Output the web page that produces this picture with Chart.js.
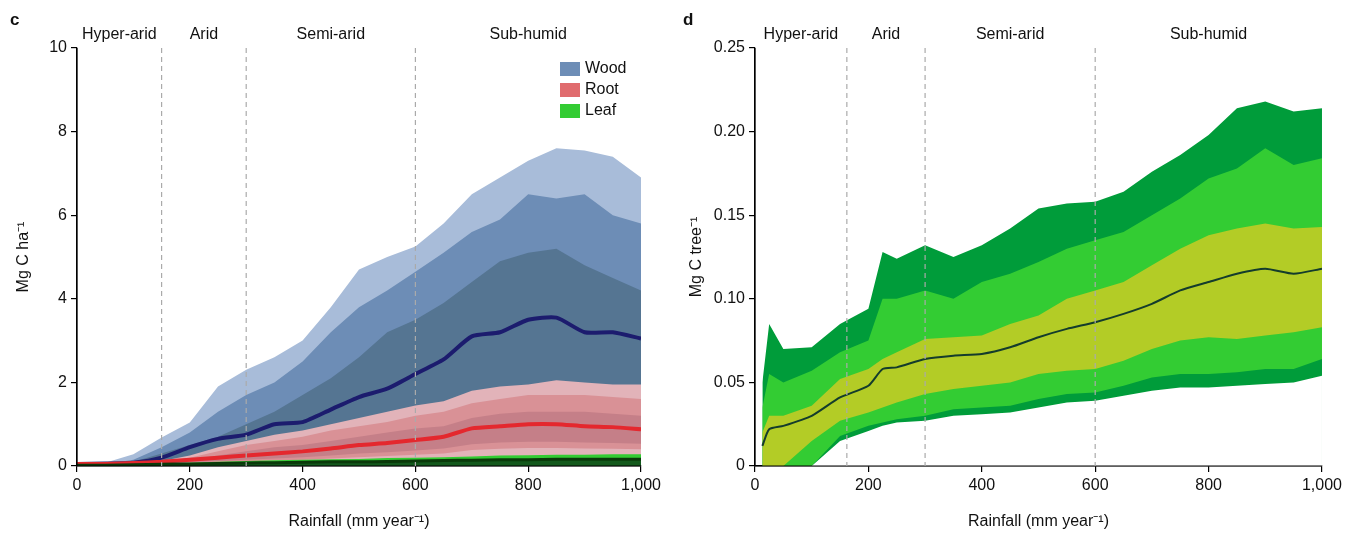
<!DOCTYPE html>
<html>
<head>
<meta charset="utf-8">
<script src="https://cdn.jsdelivr.net/npm/chart.js@4.4.1/dist/chart.umd.min.js"></script>
<style>
  body { margin: 0; background: #fff; }
  #wrap { position: relative; width: 1346px; height: 535px; }
  .pane { position: absolute; top: 0; width: 673px; height: 535px; }
</style>
</head>
<body>
<div id="wrap">
  <div class="pane" style="left:0"><canvas id="chartC"></canvas></div>
  <div class="pane" style="left:673px"><canvas id="chartD"></canvas></div>
</div>
<script>
// ---- panel c : carbon per hectare ----
const rainC = [0,50,100,150,200,250,300,350,400,450,500,550,600,650,700,750,800,850,900,950,1000];

const woodOuter = [0.05,0.08,0.28,0.68,1.04,1.9,2.3,2.6,3.0,3.8,4.7,5.0,5.25,5.8,6.5,6.9,7.3,7.6,7.55,7.4,6.9];
const woodMid   = [0.05,0.05,0.15,0.45,0.8,1.3,1.7,2.0,2.5,3.2,3.8,4.2,4.65,5.1,5.6,5.9,6.5,6.4,6.5,6.0,5.8];
const woodInner = [0.05,0.05,0.1,0.3,0.5,0.7,1.0,1.3,1.7,2.1,2.6,3.2,3.5,3.9,4.4,4.9,5.1,5.2,4.8,4.5,4.2];
const woodMed   = [0.05,0.06,0.08,0.2,0.45,0.65,0.75,1.0,1.05,1.35,1.65,1.85,2.2,2.55,3.1,3.2,3.5,3.55,3.2,3.2,3.05];

const rootOuter = [0.05,0.05,0.08,0.12,0.25,0.45,0.6,0.75,0.85,1.0,1.15,1.3,1.45,1.55,1.8,1.9,1.95,2.05,2.0,1.95,1.95];
const rootMid   = [0.05,0.05,0.07,0.1,0.2,0.35,0.5,0.6,0.7,0.85,0.95,1.05,1.2,1.3,1.5,1.6,1.7,1.7,1.7,1.65,1.6];
const rootInner = [0.05,0.05,0.07,0.08,0.15,0.25,0.35,0.45,0.5,0.6,0.7,0.8,0.9,0.95,1.15,1.25,1.3,1.3,1.3,1.25,1.2];
const rootMed   = [0.05,0.05,0.07,0.1,0.15,0.2,0.25,0.3,0.35,0.42,0.5,0.55,0.62,0.7,0.9,0.95,1.0,1.0,0.95,0.93,0.88];
const rootInLo  = [0.03,0.03,0.04,0.06,0.09,0.12,0.15,0.18,0.21,0.25,0.3,0.33,0.37,0.42,0.52,0.56,0.58,0.58,0.56,0.55,0.53];
const rootMidLo = [0.02,0.02,0.03,0.04,0.06,0.09,0.11,0.13,0.15,0.18,0.21,0.24,0.27,0.3,0.38,0.41,0.43,0.43,0.42,0.41,0.4];

const leafOuter = [0.03,0.03,0.04,0.06,0.08,0.1,0.12,0.14,0.15,0.16,0.17,0.19,0.2,0.21,0.23,0.25,0.26,0.27,0.27,0.28,0.28];
const leafInner = [0.02,0.02,0.03,0.04,0.05,0.06,0.07,0.08,0.08,0.09,0.1,0.1,0.11,0.12,0.13,0.14,0.15,0.15,0.15,0.15,0.15];
const leafMed   = [0.02,0.02,0.03,0.04,0.05,0.06,0.07,0.08,0.09,0.1,0.1,0.11,0.12,0.13,0.14,0.15,0.15,0.16,0.16,0.16,0.16];

// ---- panel d : carbon per tree ----
const rainD = [13,25,50,100,150,200,225,250,300,350,400,450,500,550,600,650,700,750,800,850,900,950,1000];

const treeOuter  = [0.05,0.085,0.07,0.071,0.085,0.094,0.128,0.124,0.132,0.125,0.132,0.142,0.154,0.157,0.158,0.164,0.176,0.186,0.198,0.214,0.218,0.212,0.214];
const treeMid    = [0.035,0.055,0.05,0.057,0.068,0.075,0.1,0.1,0.105,0.1,0.11,0.115,0.122,0.13,0.135,0.14,0.15,0.16,0.172,0.178,0.19,0.18,0.184];
const treeInner  = [0.02,0.03,0.03,0.036,0.052,0.058,0.064,0.068,0.076,0.077,0.078,0.085,0.09,0.1,0.105,0.11,0.12,0.13,0.138,0.142,0.145,0.142,0.143];
const treeMed    = [0.012,0.022,0.024,0.03,0.041,0.048,0.058,0.059,0.064,0.066,0.067,0.071,0.077,0.082,0.086,0.091,0.097,0.105,0.11,0.115,0.118,0.115,0.118];
const treeInLo   = [0,0,0,0.015,0.027,0.032,0.035,0.038,0.043,0.046,0.048,0.05,0.055,0.057,0.058,0.063,0.07,0.075,0.077,0.076,0.078,0.08,0.083];
const treeMidLo  = [0,0,0,0,0.018,0.024,0.026,0.028,0.03,0.034,0.035,0.036,0.04,0.043,0.044,0.048,0.053,0.055,0.055,0.056,0.058,0.058,0.064];
const treeOutLo  = [0,0,0,0,0.015,0.021,0.024,0.026,0.027,0.03,0.031,0.032,0.035,0.038,0.039,0.042,0.045,0.047,0.047,0.048,0.049,0.05,0.054];

const zoneNames = ["Hyper-arid","Arid","Semi-arid","Sub-humid"];
const zoneEdgesC = [150,300,600];
const zoneEdgesD = [162,300,600];

const FONT = "'Liberation Sans', Arial, sans-serif";
Chart.defaults.font.family = FONT;
Chart.defaults.color = "#111";

function pts(xs, ys) { return xs.map((x, i) => ({ x: x, y: ys[i] })); }
function band(xs, ys, color) {
  return { data: pts(xs, ys), backgroundColor: color, borderWidth: 0, pointRadius: 0, fill: "origin", tension: 0 };
}
function line(xs, ys, color, w) {
  return { data: pts(xs, ys), borderColor: color, borderWidth: w, pointRadius: 0, fill: false, tension: 0.2 };
}
// first listed dataset is painted first (at the back)
function stackOrder(list) {
  list.forEach((d, i) => { d.order = list.length - i; });
  return list;
}

// dashed zone lines, zone names, panel letter, optional legend
function decor(letter, edges, legend) {
  return {
    id: "decor" + letter,
    afterDatasetsDraw(chart) {
      const { ctx, chartArea: a, scales: { x } } = chart;
      ctx.save();
      // axis lines again, fills may have covered them
      ctx.strokeStyle = "#000";
      ctx.lineWidth = 1.2;
      ctx.beginPath();
      ctx.moveTo(a.left, a.top); ctx.lineTo(a.left, a.bottom); ctx.lineTo(a.right, a.bottom);
      ctx.stroke();
      ctx.strokeStyle = "#aaa";
      ctx.setLineDash([5, 4]);
      edges.forEach(e => {
        const px = x.getPixelForValue(e);
        ctx.beginPath(); ctx.moveTo(px, a.top); ctx.lineTo(px, a.bottom); ctx.stroke();
      });
      ctx.setLineDash([]);
      ctx.fillStyle = "#111";
      ctx.font = "16px " + FONT;
      ctx.textAlign = "center";
      ctx.textBaseline = "middle";
      const b = [0].concat(edges, [1000]);
      zoneNames.forEach((n, i) => {
        ctx.fillText(n, x.getPixelForValue((b[i] + b[i + 1]) / 2), 35);
      });
      ctx.font = "bold 17px " + FONT;
      ctx.textAlign = "left";
      ctx.fillText(letter, 10, 20);
      if (legend) {
        ctx.font = "16px " + FONT;
        legend.forEach((l, i) => {
          const y = 69 + i * 21;
          ctx.fillStyle = l[1];
          ctx.fillRect(560, y - 7, 20, 14);
          ctx.fillStyle = "#111";
          ctx.fillText(l[0], 585, y);
        });
      }
      ctx.restore();
    }
  };
}

function axes(yMax, yStep, yTitle, yWidth, yFmt) {
  const axisBase = {
    type: "linear",
    grid: { drawOnChartArea: false, drawTicks: true, tickLength: 6, color: "#000", lineWidth: 1.2 },
    border: { color: "#000", width: 1.2 },
    ticks: { font: { size: 16 }, color: "#111", padding: 4 }
  };
  return {
    x: Object.assign({}, axisBase, {
      min: 0, max: 1000,
      ticks: Object.assign({}, axisBase.ticks, { stepSize: 200, maxRotation: 0, callback: v => v === 1000 ? "1,000" : v }),
      title: { display: true, text: "Rainfall (mm year\u207B\u00B9)", font: { size: 16 }, color: "#111", padding: { top: 8 } },
      afterFit: s => { s.height = 69; }
    }),
    y: Object.assign({}, axisBase, {
      min: 0, max: yMax,
      ticks: Object.assign({}, axisBase.ticks, { stepSize: yStep, callback: yFmt }),
      title: { display: true, text: yTitle, font: { size: 16 }, color: "#111", padding: { top: 14, bottom: 0 } },
      afterFit: s => { s.width = yWidth; }
    })
  };
}

const baseOpts = {
  responsive: false,
  animation: false,
  plugins: { legend: { display: false }, tooltip: { enabled: false } }
};

function makeCanvas(id) {
  const c = document.getElementById(id);
  c.width = 673; c.height = 535;
  return c;
}

new Chart(makeCanvas("chartC"), {
  type: "line",
  data: {
    datasets: stackOrder([
      band(rainC, woodOuter, "#a8bcd9"),
      band(rainC, woodMid, "#6d8db6"),
      band(rainC, woodInner, "#557592"),
      line(rainC, woodMed, "#1c1c6e", 4),
      band(rainC, rootOuter, "#e2b3b9"),
      band(rainC, rootMid, "#d99196"),
      band(rainC, rootInner, "#c57f88"),
      band(rainC, rootInLo, "#d99196"),
      band(rainC, rootMidLo, "#e2b3b9"),
      line(rainC, rootMed, "#e4282e", 4),
      band(rainC, leafOuter, "#33cc33"),
      band(rainC, leafInner, "#13591c"),
      line(rainC, leafMed, "#0a3a0a", 3)
    ])
  },
  options: Object.assign({}, baseOpts, {
    layout: { padding: { left: 0, right: 32, top: 48, bottom: 0 } },
    scales: axes(10, 2, "Mg C ha\u207B\u00B9", 77, v => v)
  }),
  plugins: [decor("c", zoneEdgesC, [["Wood", "#6d8db6"], ["Root", "#e06b6e"], ["Leaf", "#33cc33"]])]
});

new Chart(makeCanvas("chartD"), {
  type: "line",
  data: {
    datasets: stackOrder([
      band(rainD, treeOuter, "#009c3a"),
      band(rainD, treeMid, "#33cc33"),
      band(rainD, treeInner, "#b3cc26"),
      band(rainD, treeInLo, "#33cc33"),
      band(rainD, treeMidLo, "#009c3a"),
      band(rainD, treeOutLo, "#ffffff"),
      line(rainD, treeMed, "#143c2c", 2)
    ])
  },
  options: Object.assign({}, baseOpts, {
    layout: { padding: { left: 0, right: 23, top: 48, bottom: 0 } },
    scales: axes(0.25, 0.05, "Mg C tree\u207B\u00B9", 82, v => v === 0 ? "0" : v.toFixed(2))
  }),
  plugins: [decor("d", zoneEdgesD, null)]
});
</script>
</body>
</html>
